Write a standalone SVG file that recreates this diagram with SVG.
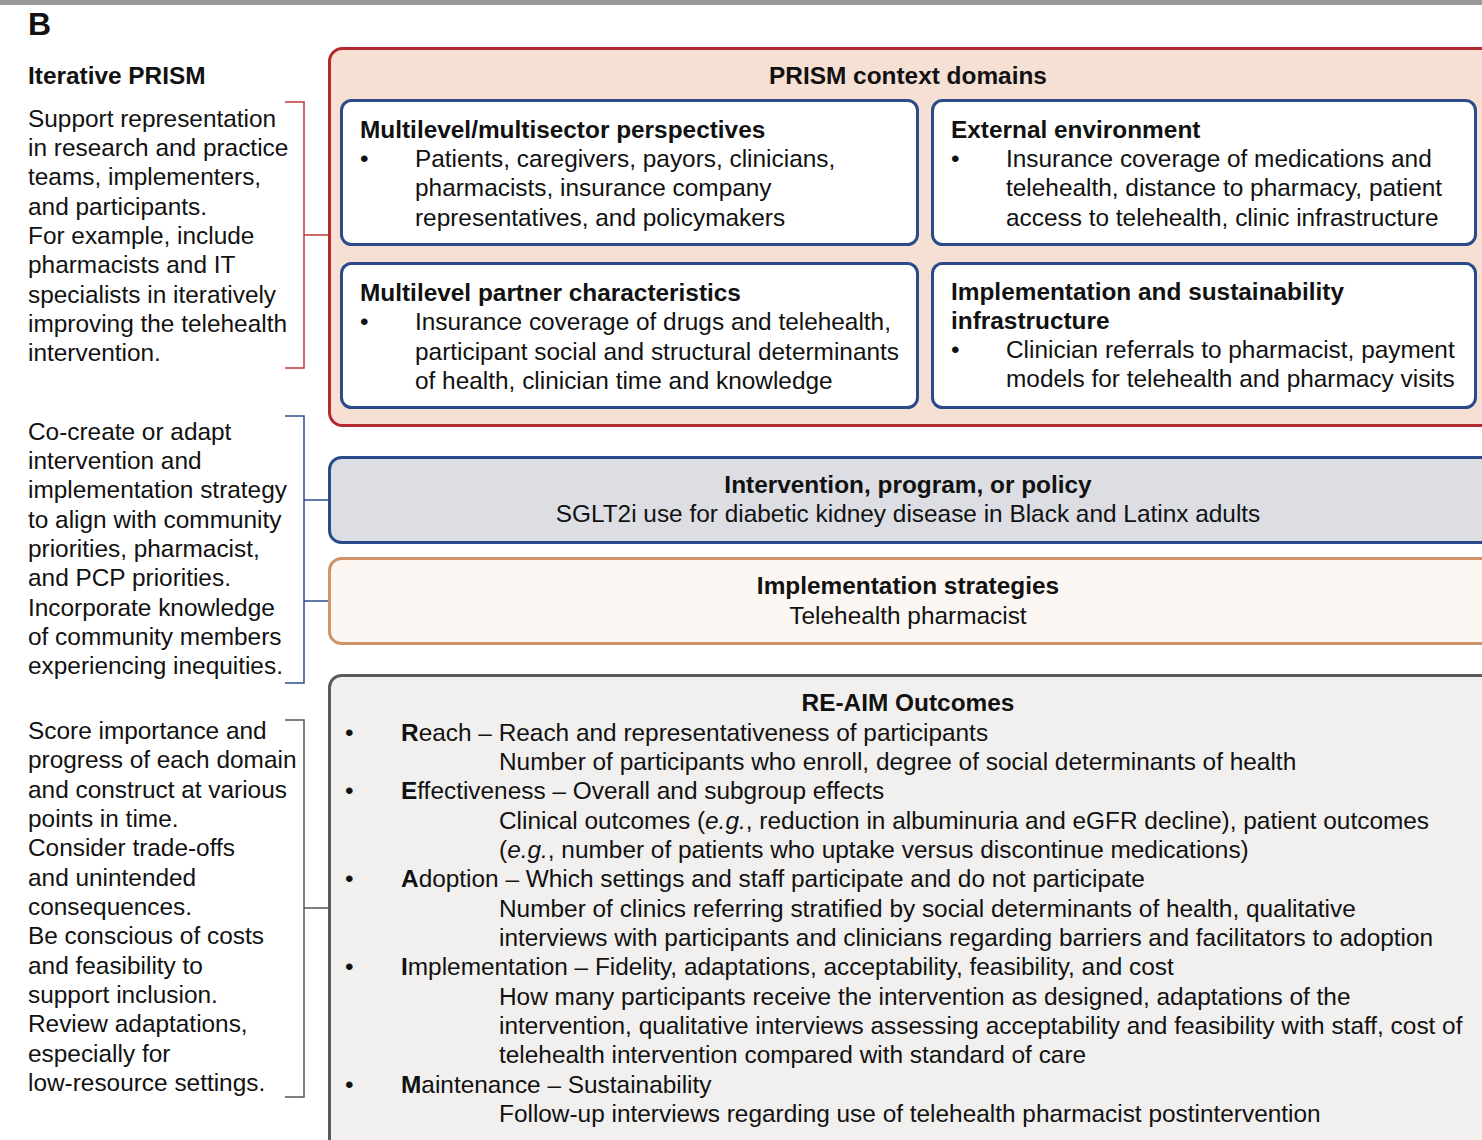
<svg xmlns="http://www.w3.org/2000/svg" width="1482" height="1140" viewBox="0 0 1482 1140">
<style>
text{font-family:"Liberation Sans",Arial,Helvetica,sans-serif;font-size:24.4px;fill:#111}
.b{font-weight:bold}
.c{text-anchor:middle}
.br{fill:none;stroke-width:1.5}
</style>
<rect width="1482" height="1140" fill="#fff"/>
<rect x="0" y="0" width="1482" height="5" fill="#9a9a9a"/>
<text x="28" y="35" class="b" style="font-size:32px">B</text>
<text x="28" y="84" class="b">Iterative PRISM</text>

<g id="left-text-1">
<text x="28" y="127">Support representation</text>
<text x="28" y="156">in research and practice</text>
<text x="28" y="185">teams, implementers,</text>
<text x="28" y="215">and participants.</text>
<text x="28" y="244">For example, include</text>
<text x="28" y="273">pharmacists and IT</text>
<text x="28" y="303">specialists in iteratively</text>
<text x="28" y="332">improving the telehealth</text>
<text x="28" y="361">intervention.</text>
</g>
<g id="left-text-2">
<text x="28" y="440">Co-create or adapt</text>
<text x="28" y="469">intervention and</text>
<text x="28" y="498">implementation strategy</text>
<text x="28" y="528">to align with community</text>
<text x="28" y="557">priorities, pharmacist,</text>
<text x="28" y="586">and PCP priorities.</text>
<text x="28" y="616">Incorporate knowledge</text>
<text x="28" y="645">of community members</text>
<text x="28" y="674">experiencing inequities.</text>
</g>
<g id="left-text-3">
<text x="28" y="739">Score importance and</text>
<text x="28" y="768">progress of each domain</text>
<text x="28" y="798">and construct at various</text>
<text x="28" y="827">points in time.</text>
<text x="28" y="856">Consider trade-offs</text>
<text x="28" y="886">and unintended</text>
<text x="28" y="915">consequences.</text>
<text x="28" y="944">Be conscious of costs</text>
<text x="28" y="974">and feasibility to</text>
<text x="28" y="1003">support inclusion.</text>
<text x="28" y="1032">Review adaptations,</text>
<text x="28" y="1062">especially for</text>
<text x="28" y="1091">low-resource settings.</text>
</g>

<g id="connectors">
<path class="br" stroke="#c0393b" d="M285 102H304V368H285M304 235H328"/>
<path class="br" stroke="#2f4f8f" d="M285 416H304V683H285M304 500H328M304 601H328"/>
<path class="br" stroke="#555" d="M285 720H304V1097H285M304 908H328"/>
</g>

<g id="prism-context">
<rect x="329.5" y="48.5" width="1200" height="377" rx="13" fill="#f6dfd3" stroke="#b22a2e" stroke-width="3"/>
<text x="908" y="84" class="b c">PRISM context domains</text>
</g>
<g id="multilevel-perspectives">
<rect x="341.5" y="100.5" width="576" height="144" rx="10" fill="#fff" stroke="#2a4a8a" stroke-width="3"/>
<text x="360" y="138" class="b">Multilevel/multisector perspectives</text>
<text x="360" y="167">•</text>
<text x="415" y="167">Patients, caregivers, payors, clinicians,</text>
<text x="415" y="196">pharmacists, insurance company</text>
<text x="415" y="226">representatives, and policymakers</text>
</g>
<g id="external-environment">
<rect x="932.5" y="100.5" width="543" height="144" rx="10" fill="#fff" stroke="#2a4a8a" stroke-width="3"/>
<text x="951" y="138" class="b">External environment</text>
<text x="951" y="167">•</text>
<text x="1006" y="167">Insurance coverage of medications and</text>
<text x="1006" y="196">telehealth, distance to pharmacy, patient</text>
<text x="1006" y="226">access to telehealth, clinic infrastructure</text>
</g>
<g id="partner-characteristics">
<rect x="341.5" y="263.5" width="576" height="144" rx="10" fill="#fff" stroke="#2a4a8a" stroke-width="3"/>
<text x="360" y="301" class="b">Multilevel partner characteristics</text>
<text x="360" y="330">•</text>
<text x="415" y="330">Insurance coverage of drugs and telehealth,</text>
<text x="415" y="360">participant social and structural determinants</text>
<text x="415" y="389">of health, clinician time and knowledge</text>
</g>
<g id="infrastructure">
<rect x="932.5" y="263.5" width="543" height="144" rx="10" fill="#fff" stroke="#2a4a8a" stroke-width="3"/>
<text x="951" y="300" class="b">Implementation and sustainability</text>
<text x="951" y="329" class="b">infrastructure</text>
<text x="951" y="358">•</text>
<text x="1006" y="358">Clinician referrals to pharmacist, payment</text>
<text x="1006" y="387">models for telehealth and pharmacy visits</text>
</g>
<g id="intervention">
<rect x="329.5" y="457.5" width="1200" height="85" rx="12" fill="#dcdee3" stroke="#2a4a8a" stroke-width="3"/>
<text x="908" y="493" class="b c">Intervention, program, or policy</text>
<text x="908" y="522" class="c">SGLT2i use for diabetic kidney disease in Black and Latinx adults</text>
</g>
<g id="implementation-strategies">
<rect x="329.5" y="558.5" width="1200" height="85" rx="12" fill="#fcf7f2" stroke="#d09468" stroke-width="3"/>
<text x="908" y="594" class="b c">Implementation strategies</text>
<text x="908" y="624" class="c">Telehealth pharmacist</text>
</g>
<g id="re-aim">
<rect x="329.5" y="675.5" width="1200" height="500" rx="12" fill="#f1f0ee" stroke="#5a5a5a" stroke-width="3"/>
<text x="908" y="711" class="b c">RE-AIM Outcomes</text>
<text x="345" y="741">•</text>
<text x="401" y="741"><tspan class="b">R</tspan>each – Reach and representativeness of participants</text>
<text x="499" y="770">Number of participants who enroll, degree of social determinants of health</text>
<text x="345" y="799">•</text>
<text x="401" y="799"><tspan class="b">E</tspan>ffectiveness – Overall and subgroup effects</text>
<text x="499" y="829">Clinical outcomes (<tspan font-style="italic">e.g.</tspan>, reduction in albuminuria and eGFR decline), patient outcomes</text>
<text x="499" y="858">(<tspan font-style="italic">e.g.</tspan>, number of patients who uptake versus discontinue medications)</text>
<text x="345" y="887">•</text>
<text x="401" y="887"><tspan class="b">A</tspan>doption – Which settings and staff participate and do not participate</text>
<text x="499" y="917">Number of clinics referring stratified by social determinants of health, qualitative</text>
<text x="499" y="946">interviews with participants and clinicians regarding barriers and facilitators to adoption</text>
<text x="345" y="975">•</text>
<text x="401" y="975"><tspan class="b">I</tspan>mplementation – Fidelity, adaptations, acceptability, feasibility, and cost</text>
<text x="499" y="1005">How many participants receive the intervention as designed, adaptations of the</text>
<text x="499" y="1034">intervention, qualitative interviews assessing acceptability and feasibility with staff, cost of</text>
<text x="499" y="1063">telehealth intervention compared with standard of care</text>
<text x="345" y="1093">•</text>
<text x="401" y="1093"><tspan class="b">M</tspan>aintenance – Sustainability</text>
<text x="499" y="1122">Follow-up interviews regarding use of telehealth pharmacist postintervention</text>
</g>
</svg>
